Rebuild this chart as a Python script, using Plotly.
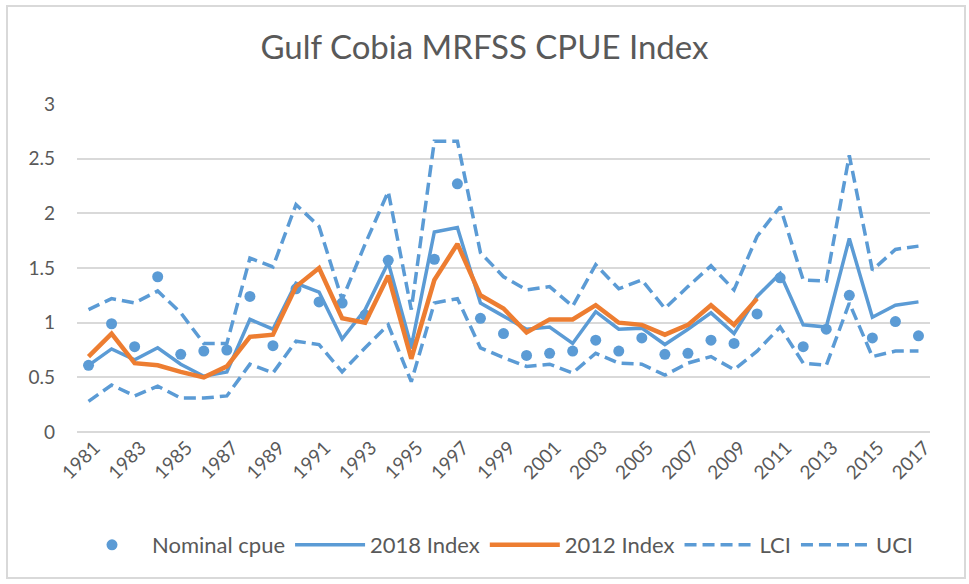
import plotly.graph_objects as go

years = list(range(1981, 2018))

nominal_cpue = [0.61, 0.99, 0.78, 1.42, 0.71, 0.74, 0.75, 1.24, 0.79, 1.31, 1.19,
                1.18, 1.07, 1.57, 0.81, 1.58, 2.27, 1.04, 0.90, 0.70, 0.72, 0.74, 0.84, 0.74,
                0.86, 0.71, 0.72, 0.84, 0.81, 1.08, 1.41, 0.78, 0.94, 1.25, 0.86, 1.01, 0.88]

index_2018 = [0.61, 0.76, 0.66, 0.77, 0.62, 0.51, 0.55, 1.03, 0.94, 1.36, 1.28,
              0.85, 1.12, 1.55, 0.78, 1.83, 1.87, 1.18, 1.06, 0.94, 0.96, 0.81, 1.10, 0.94,
              0.95, 0.80, 0.94, 1.09, 0.90, 1.24, 1.45, 0.98, 0.96, 1.77, 1.05, 1.16, 1.19]

index_2012 = [0.69, 0.90, 0.63, 0.61, 0.55, 0.50, 0.60, 0.87, 0.89, 1.33,
              1.50, 1.04, 1.00, 1.43, 0.67, 1.39, 1.72, 1.25, 1.13, 0.91,
              1.03, 1.03, 1.16, 1.00, 0.98, 0.89, 0.98, 1.16, 0.98, 1.22,
              None, None, None, None, None, None, None]

lci = [0.28, 0.43, 0.33, 0.42, 0.31, 0.31, 0.33, 0.62, 0.54, 0.83, 0.80,
       0.55, 0.77, 0.98, 0.46, 1.18, 1.22, 0.77, 0.68, 0.60, 0.62, 0.54, 0.72, 0.63,
       0.62, 0.52, 0.63, 0.69, 0.57, 0.74, 0.96, 0.63, 0.61, 1.18, 0.69, 0.74, 0.74]

uci = [1.12, 1.22, 1.18, 1.29, 1.09, 0.81, 0.81, 1.59, 1.51, 2.08, 1.88,
       1.21, 1.72, 2.20, 1.12, 2.66, 2.66, 1.64, 1.42, 1.30, 1.33, 1.15, 1.53, 1.31,
       1.39, 1.13, 1.33, 1.52, 1.30, 1.79, 2.06, 1.39, 1.38, 2.53, 1.48, 1.67, 1.70]

tick_years = list(range(1981, 2018, 2))
y_ticks = [0, 0.5, 1, 1.5, 2, 2.5, 3]
y_tick_text = ["0", "0.5", "1", "1.5", "2", "2.5", "3"]

BLUE = "#5B9BD5"
ORANGE = "#ED7D31"
TEXT = "#595959"
GRID = "#D9D9D9"
FONT = "Lato, 'Open Sans', sans-serif"
DASH = "12px,6px"

fig = go.Figure()
fig.add_trace(go.Scatter(x=years, y=nominal_cpue, mode="markers", name="Nominal cpue",
                         marker=dict(color=BLUE, size=11)))
fig.add_trace(go.Scatter(x=years, y=index_2018, mode="lines", name="2018 Index",
                         line=dict(color=BLUE, width=3.5)))
fig.add_trace(go.Scatter(x=years, y=index_2012, mode="lines", name="2012 Index",
                         line=dict(color=ORANGE, width=4.5)))
fig.add_trace(go.Scatter(x=years, y=lci, mode="lines", name="LCI",
                         line=dict(color=BLUE, width=3.5, dash=DASH)))
fig.add_trace(go.Scatter(x=years, y=uci, mode="lines", name="UCI",
                         line=dict(color=BLUE, width=3.5, dash=DASH)))

W, H = 969, 584
ml, mr, mt, mb = 77, 39, 104, 152
pw, ph = W - ml - mr, H - mt - mb

fig.update_layout(
    width=W, height=H,
    margin=dict(l=ml, r=mr, t=mt, b=mb),
    paper_bgcolor="white", plot_bgcolor="white",
    font=dict(family=FONT, color=TEXT),
    title=dict(text="Gulf Cobia MRFSS CPUE Index", x=0.5, xref="container",
               y=1 - 47 / H, yref="container", yanchor="middle", xanchor="center",
               font=dict(size=33, color=TEXT, family=FONT)),
    showlegend=True,
    legend=dict(orientation="h", x=0.5 - 8 / pw, xanchor="center", y=-(545 - (H - mb)) / ph,
                yanchor="middle", font=dict(size=22, color=TEXT, family=FONT),
                itemwidth=70, bgcolor="rgba(0,0,0,0)"),
    xaxis=dict(range=[1980.5, 2017.5], tickmode="array", tickvals=tick_years,
               ticktext=[str(y) for y in tick_years], tickangle=-45,
               showgrid=False, zeroline=False, showline=False,
               tickfont=dict(size=19, color=TEXT, family=FONT), ticks="",
               ticklabelshift=6),
    yaxis=dict(range=[0, 3], tickmode="array", tickvals=y_ticks, ticktext=y_tick_text,
               showgrid=True, gridcolor=GRID, gridwidth=2,
               zeroline=True, zerolinecolor=GRID, zerolinewidth=2, showline=False,
               tickfont=dict(size=19, color=TEXT, family=FONT), ticks="",
               ticklabelstandoff=21),
)

# outer chart border
fig.add_shape(type="rect", xref="paper", yref="paper",
              x0=(7 - ml) / pw, x1=(965 - ml) / pw,
              y0=((H - mb) - 578) / ph, y1=((H - mb) - 6) / ph,
              line=dict(color=GRID, width=2), fillcolor="rgba(0,0,0,0)", layer="below")

fig.write_html("out.html", config={"displayModeBar": False},
               post_script="document.body.style.margin='0';document.body.style.overflow='hidden';")
